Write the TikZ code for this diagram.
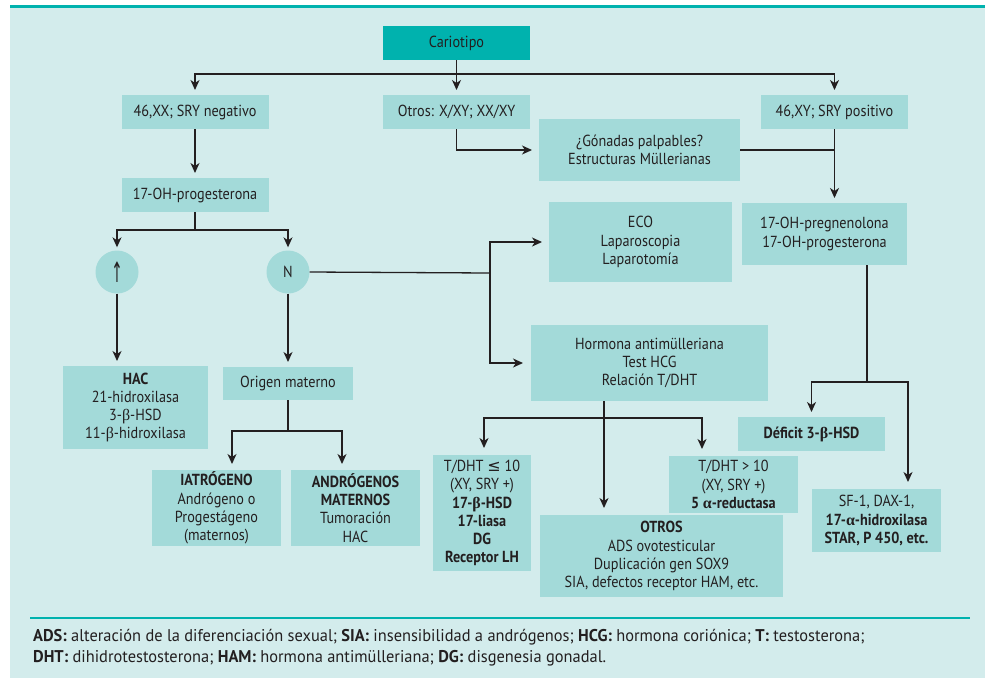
\documentclass[tikz,border=0pt]{standalone}
\usepackage{fontspec}
\usepackage{graphicx}
\setmainfont[FakeStretch=0.89]{PT Sans}
\newfontfamily\symf{DejaVu Sans}
\newfontfamily\grk{Liberation Serif}
\newfontfamily\legf[FakeStretch=0.965]{PT Sans}
\usetikzlibrary{arrows.meta}
\definecolor{bgc}{HTML}{D3ECEC}
\definecolor{boxc}{HTML}{A3DAD9}
\definecolor{teal1}{HTML}{00B2AE}
\definecolor{ink}{HTML}{231F20}
\newcommand{\bet}{{\grk β}}
\newcommand{\alp}{{\grk α}}
\tikzset{
  bx/.style={fill=boxc,text=ink,align=center,inner sep=0pt,outer sep=0pt},
  circ/.style={circle,fill=boxc,minimum size=43pt,inner sep=0pt,text=ink},
  ln/.style={draw=ink,line width=1.3pt},
  ar/.style={ln,-{Stealth[length=10pt,width=9pt,inset=3pt]},shorten >=5pt},
}
\begin{document}
\begin{tikzpicture}[x=1pt,y=-1pt,font=\fontsize{16}{18.2}\selectfont]
\useasboundingbox (0,0) rectangle (985,678);
\fill[white] (0,0) rectangle (985,678);
\fill[bgc] (10,7) rectangle (985,678);
\draw[teal1,line width=2.5pt] (10,6.5) -- (985,6.5);

% nodes
\node[bx,fill=teal1,minimum width=147pt,minimum height=34pt] (cario) at (456.5,43) {Cariotipo};
\node[bx,minimum width=147pt,minimum height=34pt] (xx) at (195,112) {46,XX; SRY negativo};
\node[bx,minimum width=147pt,minimum height=34pt] (otros) at (456.5,112) {Otros: X/XY; XX/XY};
\node[bx,minimum width=147pt,minimum height=34pt] (xy) at (834.5,112) {46,XY; SRY positivo};
\node[bx,minimum width=201pt,minimum height=62pt] (gon) at (639.5,150) {¿Gónadas palpables?\\Estructuras Müllerianas};
\node[bx,minimum width=147pt,minimum height=34pt] (oh17) at (195,195) {17-OH-progesterona};
\node[circ] (up) at (117,272) {\scalebox{0.85}[1.75]{\symf ↑}};
\node[circ] (nn) at (288,272) {N};
\node[bx,minimum width=183pt,minimum height=80pt] (eco) at (640.5,242) {ECO\\Laparoscopia\\Laparotomía};
\node[bx,minimum width=165pt,minimum height=62pt] (preg) at (824.5,234) {17-OH-pregnenolona\\17-OH-progesterona};
\node[bx,minimum width=237pt,minimum height=76pt] (horm) at (649.5,363) {Hormona antimülleriana\\Test HCG\\Relación T/DHT};
\node[bx,minimum width=145pt,minimum height=83pt] (hac) at (135.5,407.5) {\textbf{HAC}\\21-hidroxilasa\\3-\bet-HSD\\11-\bet-hidroxilasa};
\node[bx,minimum width=130pt,minimum height=33pt] (orig) at (288,383.5) {Origen materno};
\node[bx,minimum width=129pt,minimum height=76pt] (iat) at (216.5,508) {\textbf{IATRÓGENO}\\Andrógeno o\\Progestágeno\\(maternos)};
\node[bx,minimum width=129pt,minimum height=76pt] (andr) at (355.5,508) {\textbf{ANDRÓGENOS}\\\textbf{MATERNOS}\\Tumoración\\HAC};
\node[bx,minimum width=98pt,minimum height=116pt] (tle) at (482,513) {T/DHT {\symf ≤} 10\\(XY, SRY +)\\\textbf{17-\bet-HSD}\\\textbf{17-liasa}\\\textbf{DG}\\\textbf{Receptor LH}};
\node[bx,minimum width=129pt,minimum height=57pt] (tgt) at (733.5,484.5) {T/DHT > 10\\(XY, SRY +)\\\textbf{5 \alp-reductasa}};
\node[bx,minimum width=243pt,minimum height=82pt] (otr) at (661.5,556) {\textbf{OTROS}\\ADS ovotesticular\\Duplicación gen SOX9\\SIA, defectos receptor HAM, etc.};
\node[bx,minimum width=147pt,minimum height=34pt] (def) at (811.5,434) {\textbf{Déficit 3-\bet-HSD}};
\node[bx,minimum width=129pt,minimum height=63pt] (sf) at (876.5,520.5) {SF-1, DAX-1,\\\textbf{17-\alp-hidroxilasa}\\\textbf{STAR, P 450, etc.}};

% junctions
\coordinate (top) at (456.5,74);
\coordinate (s1) at (195,230);
\coordinate (nj) at (490,273);
\coordinate (oj) at (288,431);
\coordinate (hj) at (604,418);
\coordinate (pj) at (867,382);

% connectors
\draw[ln] (cario.south) -- (top);
\draw[ar] (top) -| (xx.north);
\draw[ar] (top) -- (otros.north);
\draw[ar] (top) -| (xy.north);
\draw[ar,shorten >=7pt] (otros.south) |- (gon.west);
\draw[ln] (gon.east) -- (gon.east -| xy.south);
\draw[ar] (xy.south) -- (xy.south |- preg.north);
\draw[ar] (xx.south) -- (oh17.north);
\draw[ln] (oh17.south) -- (s1);
\draw[ar,shorten >=3pt] (s1) -| (up.north);
\draw[ar,shorten >=3pt] (s1) -| (nn.north);
\draw[ar] (up.south) -- (up.south |- hac.north);
\draw[ar] (nn.south) -- (nn.south |- orig.north);
\draw[ln] (nn.east) -- (nj);
\draw[ar,shorten >=7pt] (nj) |- (eco.west);
\draw[ar,shorten >=8pt] (nj) |- (horm.west);
\draw[ln] (orig.south) -- (oj);
\draw[ar,shorten >=6pt] (oj) -| ([xshift=15.5pt]iat.north);
\draw[ar,shorten >=6pt] (oj) -| ([xshift=-13.5pt]andr.north);
\draw[ar,shorten >=7pt] ([xshift=-45.5pt]horm.south) -- ([xshift=-57.5pt]otr.north);
\draw[ar,shorten >=7pt] (hj) -| ([xshift=2pt]tle.north);
\draw[ar,shorten >=7pt] (hj) -| ([xshift=-31.5pt]tgt.north);
\draw[ln] ([xshift=42.5pt]preg.south) -- (pj);
\draw[ar] (pj) -| (def.north);
\draw[ar,shorten >=7pt] (pj) -| ([xshift=31.5pt]sf.north);

% legend
\draw[teal1,line width=1.5pt] (30,618) -- (970,618);
\node[anchor=base west,text=ink,inner sep=0pt,font=\legf\fontsize{17}{20}\selectfont] (leg1) at (33,641) {\textbf{ADS:} alteración de la diferenciación sexual; \textbf{SIA:} insensibilidad a andrógenos; \textbf{HCG:} hormona coriónica; \textbf{T:} testosterona;};
\node[anchor=base west,text=ink,inner sep=0pt,font=\legf\fontsize{17}{20}\selectfont] (leg2) at (33,662) {\textbf{DHT:} dihidrotestosterona; \textbf{HAM:} hormona antimülleriana; \textbf{DG:} disgenesia gonadal.};
\end{tikzpicture}
\end{document}
